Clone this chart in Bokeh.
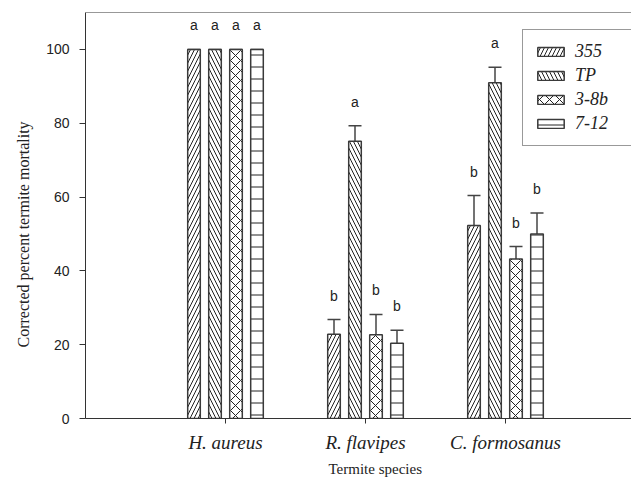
from bokeh.plotting import figure
from bokeh.models import (ColumnDataSource, FixedTicker, Whisker, TeeHead, LabelSet,
                          Legend, LegendItem, Range1d, Span, Title)
from bokeh.core.properties import value
from bokeh.transform import dodge
from bokeh.embed import file_html
from bokeh.resources import INLINE

species = ["H. aureus", "R. flavipes", "C. formosanus"]
isolates = ["355", "TP", "3-8b", "7-12"]

mean_355 = [100, 22.8, 52.3]
se_355 = [0, 4.0, 8.1]
mean_tp = [100, 75.1, 91.0]
se_tp = [0, 4.2, 4.2]
mean_38b = [100, 22.7, 43.2]
se_38b = [0, 5.5, 3.4]
mean_712 = [100, 20.4, 50.0]
se_712 = [0, 3.5, 5.7]

letters_355 = ["a", "b", "b"]
letters_tp = ["a", "a", "a"]
letters_38b = ["a", "b", "b"]
letters_712 = ["a", "b", "b"]

y_ticks = [0, 20, 40, 60, 80, 100]

series = [
    ("355", mean_355, se_355, letters_355, "/", 8),
    ("TP", mean_tp, se_tp, letters_tp, "\\", 8),
    ("3-8b", mean_38b, se_38b, letters_38b, "x", 10),
    ("7-12", mean_712, se_712, letters_712, "-", 12),
]

positions = [i + 1 for i in range(len(species))]

p = figure(width=629, height=481, output_backend="svg", toolbar_location=None,
           x_range=Range1d(0, 3.9), y_range=Range1d(0, 110),
           min_border_left=83, min_border_right=0, min_border_top=12, min_border_bottom=63)
p.frame_width = 546
p.frame_height = 406
p.grid.visible = False
p.background_fill_color = "white"
p.outline_line_color = None

axis_col = "#333333"
for ax in (p.xaxis[0], p.yaxis[0]):
    ax.axis_line_color = axis_col
    ax.major_tick_line_color = axis_col
    ax.minor_tick_line_color = None
    ax.major_tick_in = 0

# top border of the plot frame
p.add_layout(Span(location=p.y_range.end, dimension="width",
                  line_color=axis_col, line_width=1))

p.yaxis.ticker = FixedTicker(ticks=y_ticks)
p.yaxis.major_tick_out = 6
p.yaxis.major_label_text_font = "Liberation Sans"
p.yaxis.major_label_text_font_size = "14px"
p.yaxis.major_label_text_color = "#222222"
p.yaxis.major_label_standoff = 10

# y axis title (starts above the frame bottom, as in the original)
p.add_layout(Title(text="Corrected percent termite mortality", align="left", offset=71,
                   text_font="Liberation Serif", text_font_size="16px",
                   text_font_style="normal", text_color="#222222", standoff=24), "left")

p.xaxis.ticker = FixedTicker(ticks=positions)
p.xaxis.major_label_overrides = {pos: name for pos, name in zip(positions, species)}
p.xaxis.major_tick_out = 5
p.xaxis.major_label_text_font = "Liberation Serif"
p.xaxis.major_label_text_font_style = "italic"
p.xaxis.major_label_text_font_size = "19px"
p.xaxis.major_label_text_color = "#222222"
p.xaxis.major_label_standoff = 8

# x axis title, offset to the right as in the original
p.add_layout(Title(text="Termite species", align="left", offset=243,
                   text_font="Liberation Serif", text_font_size="15px",
                   text_font_style="normal", text_color="#222222", standoff=6), "below")

pitch = 0.15
bar_w = 0.09
items = []
for k, (name, means, ses, letters, hatch, hscale) in enumerate(series):
    off = (k - 1.5) * pitch
    src = ColumnDataSource(dict(
        x=positions, top=means,
        upper=[m + s for m, s in zip(means, ses)],
        label_y=[m + s + 6.5 for m, s in zip(means, ses)],
        letter=letters,
    ))
    r = p.vbar(x=dodge("x", off), top="top", width=bar_w, source=src,
               fill_color="white", line_color="#3a3a3a", line_width=1.5,
               hatch_pattern=hatch, hatch_color="#222222", hatch_weight=1,
               hatch_scale=hscale)
    w = Whisker(base=dodge("x", off), upper="upper", lower="top", source=src,
                dimension="height", line_color="#444444", line_width=1.5,
                upper_head=TeeHead(size=13, line_color="#444444", line_width=1.5),
                lower_head=None)
    p.add_layout(w)
    lbl = LabelSet(x=dodge("x", off), y="label_y", text="letter", source=src,
                   text_align="center", text_baseline="middle",
                   text_font=value("Liberation Sans"), text_font_size=value("14px"),
                   text_color=value("#222222"))
    p.add_layout(lbl)
    items.append(LegendItem(label=name, renderers=[r]))

legend = Legend(items=items, location=(437, 272))
legend.glyph_width = 33
legend.glyph_height = 11
legend.label_height = 21
legend.label_width = 45
legend.spacing = 3
legend.padding = 11
legend.margin = 0
legend.label_standoff = 8
legend.label_text_font = "Liberation Serif"
legend.label_text_font_style = "italic"
legend.label_text_font_size = "18px"
legend.label_text_color = "#222222"
legend.border_line_color = "#333333"
legend.border_line_width = 1.5
legend.background_fill_color = "white"
legend.background_fill_alpha = 1
p.add_layout(legend)

open("out.html", "w").write(file_html(p, INLINE))
